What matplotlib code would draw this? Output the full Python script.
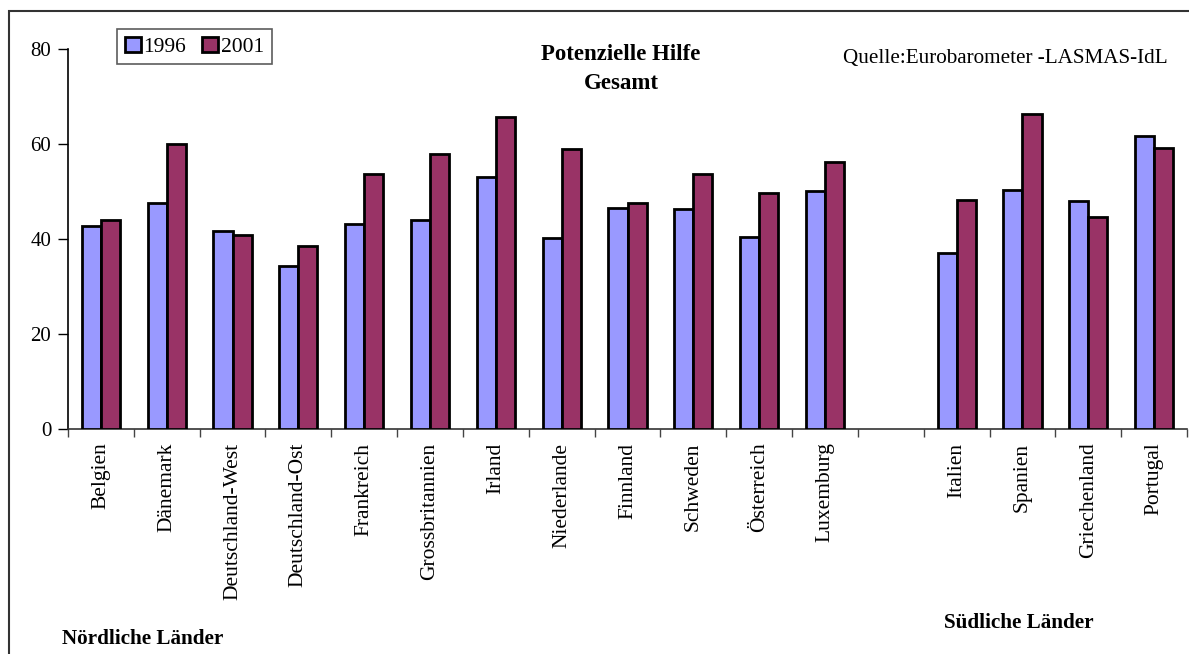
import matplotlib
matplotlib.use("Agg")
import matplotlib.pyplot as plt
import numpy as np
from matplotlib.patches import Rectangle

# Countries (an empty slot separates the northern from the southern group)
countries = ["Belgien", "Dänemark", "Deutschland-West", "Deutschland-Ost",
             "Frankreich", "Grossbritannien", "Irland", "Niederlande",
             "Finnland", "Schweden", "Österreich", "Luxemburg", "",
             "Italien", "Spanien", "Griechenland", "Portugal"]

vals_1996 = [42.7, 47.5, 41.7, 34.2, 43.1, 43.9, 53.1, 40.2,
             46.6, 46.2, 40.3, 50.1, np.nan, 37.0, 50.3, 48.0, 61.7]
vals_2001 = [43.9, 59.9, 40.9, 38.5, 53.6, 57.8, 65.6, 58.9,
             47.6, 53.7, 49.7, 56.1, np.nan, 48.1, 66.3, 44.6, 59.2]

years = ["1996", "2001"]
y_ticks = [0, 20, 40, 60, 80]

COL_96 = "#9999FF"
COL_01 = "#993366"

plt.rcParams["font.family"] = ["Liberation Serif", "DejaVu Serif"]

W, H = 1189, 654
fig = plt.figure(figsize=(W / 100, H / 100), dpi=100)
fig.patch.set_facecolor("white")

def fx(px):
    return px / W

def fy(py):
    return 1 - py / H

ax = fig.add_axes([fx(68), fy(428.7), fx(1187) - fx(68), fy(49) - fy(428.7)])

x = np.arange(len(countries))
bw = 0.29
ax.bar(x - bw / 2, vals_1996, width=bw, color=COL_96, edgecolor="black",
       linewidth=2.0, label=years[0], zorder=3)
ax.bar(x + bw / 2, vals_2001, width=bw, color=COL_01, edgecolor="black",
       linewidth=2.0, label=years[1], zorder=3)

ax.set_xlim(-0.5, len(countries) - 0.5)
ax.set_ylim(0, 80)
ax.set_yticks(y_ticks)
ax.tick_params(axis="y", direction="out", length=7, width=1, labelsize=15,
               pad=5, colors="black")

# Ticks at category boundaries, labels at category centres
ax.set_xticks(np.arange(len(countries) + 1) - 0.5)
ax.set_xticklabels([])
ax.tick_params(axis="x", which="major", direction="out", length=6, width=1,
               color="#444444")
ax.set_xticks(x, minor=True)
ax.set_xticklabels(countries, minor=True, rotation=90, fontsize=15.5, va="top",
                   ha="center")
ax.tick_params(axis="x", which="minor", length=0, pad=10)

for s in ["top", "right"]:
    ax.spines[s].set_visible(False)
ax.spines["left"].set_linewidth(1.2)
ax.spines["bottom"].set_linewidth(1.2)
ax.spines["bottom"].set_color("#333333")

leg = ax.legend(loc="upper left", bbox_to_anchor=(fx(117), fy(29)),
                bbox_transform=fig.transFigure, ncol=2, fontsize=15.5,
                frameon=True, fancybox=False, borderaxespad=0,
                handlelength=0.75, handleheight=0.7, handletextpad=0.12,
                columnspacing=0.75, borderpad=0.35)
leg.get_frame().set_edgecolor("#333333")
leg.get_frame().set_linewidth(1.2)

# Titles and annotations
fig.text(fx(621), fy(60), "Potenzielle Hilfe", ha="center", va="baseline",
         fontsize=16.5, fontweight="bold")
fig.text(fx(621), fy(89), "Gesamt", ha="center", va="baseline",
         fontsize=16.5, fontweight="bold")
fig.text(fx(843), fy(63), "Quelle:Eurobarometer -LASMAS-IdL", ha="left",
         va="baseline", fontsize=15.2)
fig.text(fx(62), fy(644), "Nördliche Länder", ha="left", va="baseline",
         fontsize=15.2, fontweight="bold")
fig.text(fx(944), fy(627.7), "Südliche Länder", ha="left", va="baseline",
         fontsize=15.2, fontweight="bold")

# Outer chart frame
fig.patches.append(Rectangle((fx(8.5), fy(700)), fx(1300), fy(10.5) - fy(700),
                             transform=fig.transFigure, fill=False,
                             edgecolor="#333333", linewidth=1.5))

fig.savefig("out.png", dpi=100)
